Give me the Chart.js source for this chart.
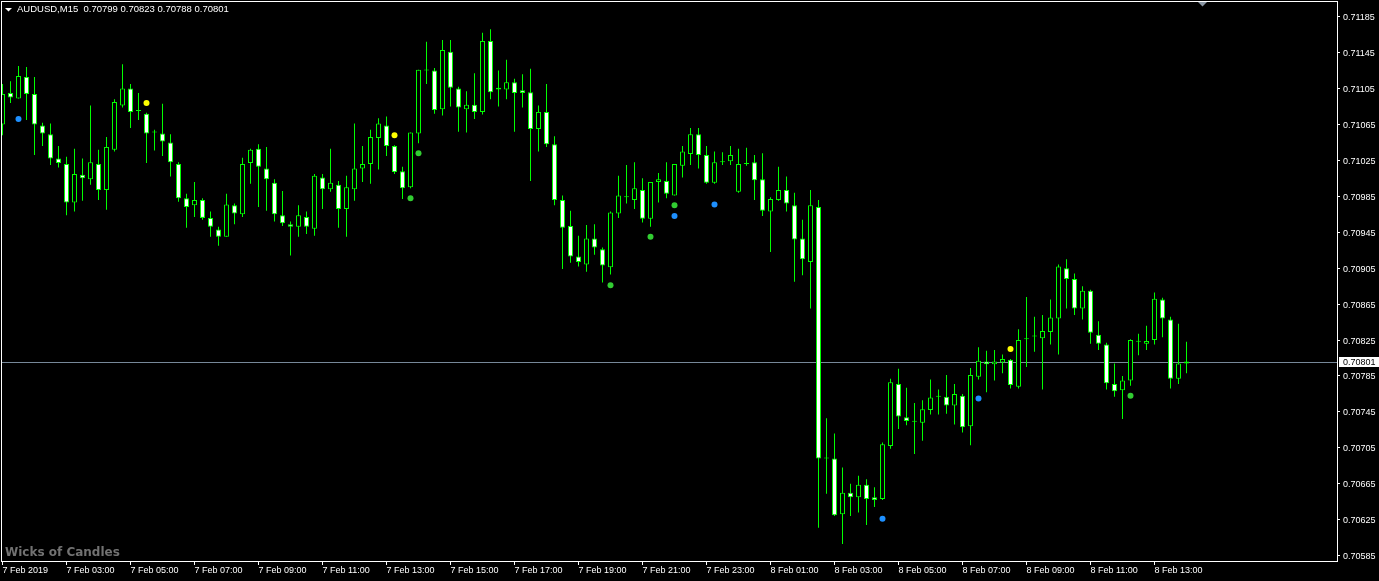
<!DOCTYPE html>
<html>
<head>
<meta charset="utf-8">
<title>AUDUSD,M15</title>
<script src="https://cdn.jsdelivr.net/npm/chart.js@4.4.1/dist/chart.umd.min.js"></script>
<style>
  html, body { margin: 0; padding: 0; background: #000; overflow: hidden; }
  canvas { display: block; }
</style>
</head>
<body>
<canvas id="myChart" width="1379" height="581"></canvas>
<script>
// AUDUSD M15 candles, one entry per bar (7 Feb 2019 01:00 onward)
const symbol = 'AUDUSD,M15';
const indicatorName = 'Wicks of Candles';

const opens = [
  0.71065, 0.71100, 0.71094, 0.71118, 0.71099, 0.71064, 0.71054, 0.71027, 0.71021, 0.70978,
  0.71009, 0.71004, 0.71021, 0.70992, 0.71037, 0.71086, 0.71105, 0.71080, 0.71077, 0.71056,
  0.71055, 0.71045, 0.71021, 0.70983, 0.70975, 0.70981, 0.70961, 0.70948, 0.70940, 0.70975,
  0.70965, 0.71022, 0.71038, 0.71016, 0.71000, 0.70964, 0.70954, 0.70951, 0.70962, 0.70949,
  0.71006, 0.70993, 0.70998, 0.70971, 0.70993, 0.71016, 0.71021, 0.71050, 0.71064, 0.71041,
  0.71013, 0.70995, 0.71055, 0.71125, 0.71125, 0.71082, 0.71146, 0.71105, 0.71082, 0.71087,
  0.71079, 0.71158, 0.71106, 0.71104, 0.71112, 0.71103, 0.71101, 0.71060, 0.71079, 0.71043,
  0.70981, 0.70952, 0.70918, 0.70909, 0.70938, 0.70926, 0.70906, 0.70966, 0.70984, 0.70981,
  0.70992, 0.70960, 0.71001, 0.71002, 0.70986, 0.71019, 0.71032, 0.71054, 0.71031, 0.71000,
  0.71023, 0.71024, 0.70990, 0.71021, 0.71023, 0.71004, 0.70968, 0.70981, 0.70992, 0.70975,
  0.70938, 0.70912, 0.70973, 0.70693, 0.70693, 0.70631, 0.70655, 0.70650, 0.70664, 0.70650,
  0.70648, 0.70707, 0.70776, 0.70739, 0.70734, 0.70733, 0.70747, 0.70762, 0.70762, 0.70752,
  0.70763, 0.70729, 0.70784, 0.70801, 0.70798, 0.70800, 0.70803, 0.70773, 0.70826, 0.70829,
  0.70827, 0.70834, 0.70849, 0.70905, 0.70893, 0.70860, 0.70880, 0.70831, 0.70820, 0.70776,
  0.70769, 0.70780, 0.70823, 0.70821, 0.70825, 0.70870, 0.70848, 0.70782, 0.70799
];
const highs = [
  0.71110, 0.71113, 0.71130, 0.71129, 0.71118, 0.71067, 0.71066, 0.71041, 0.71029, 0.71038,
  0.71027, 0.71086, 0.71037, 0.71051, 0.71093, 0.71132, 0.71110, 0.71100, 0.71078, 0.71059,
  0.71088, 0.71054, 0.71023, 0.70988, 0.71001, 0.70983, 0.70968, 0.70951, 0.70988, 0.70977,
  0.71028, 0.71038, 0.71043, 0.71040, 0.71004, 0.70991, 0.70957, 0.70975, 0.70968, 0.71010,
  0.71010, 0.71038, 0.71002, 0.71008, 0.71066, 0.71041, 0.71059, 0.71072, 0.71074, 0.71042,
  0.71018, 0.71056, 0.71126, 0.71157, 0.71128, 0.71159, 0.71159, 0.71107, 0.71102, 0.71122,
  0.71167, 0.71171, 0.71125, 0.71137, 0.71116, 0.71121, 0.71127, 0.71086, 0.71110, 0.71052,
  0.70986, 0.70969, 0.70941, 0.70953, 0.70954, 0.70928, 0.70968, 0.71008, 0.71020, 0.71023,
  0.71005, 0.71001, 0.71011, 0.71023, 0.71021, 0.71041, 0.71061, 0.71061, 0.71041, 0.71035,
  0.71034, 0.71041, 0.71038, 0.71039, 0.71031, 0.71033, 0.70984, 0.71018, 0.71007, 0.70989,
  0.70959, 0.70992, 0.70981, 0.70738, 0.70721, 0.70683, 0.70665, 0.70674, 0.70670, 0.70661,
  0.70711, 0.70782, 0.70793, 0.70772, 0.70755, 0.70758, 0.70781, 0.70770, 0.70786, 0.70776,
  0.70765, 0.70794, 0.70817, 0.70813, 0.70814, 0.70809, 0.70804, 0.70837, 0.70873, 0.70851,
  0.70853, 0.70870, 0.70909, 0.70915, 0.70899, 0.70885, 0.70881, 0.70846, 0.70822, 0.70799,
  0.70785, 0.70826, 0.70832, 0.70841, 0.70878, 0.70872, 0.70851, 0.70843, 0.70823
];
const lows = [
  0.71053, 0.71089, 0.71094, 0.71070, 0.71031, 0.71041, 0.71020, 0.71017, 0.70964, 0.70968,
  0.70980, 0.70998, 0.70981, 0.70970, 0.71035, 0.71084, 0.71061, 0.71070, 0.71022, 0.71036,
  0.71030, 0.71007, 0.70979, 0.70950, 0.70962, 0.70959, 0.70940, 0.70930, 0.70940, 0.70954,
  0.70962, 0.70999, 0.70973, 0.70969, 0.70957, 0.70952, 0.70919, 0.70940, 0.70943, 0.70941,
  0.70971, 0.70990, 0.70950, 0.70940, 0.70980, 0.71001, 0.70999, 0.71015, 0.71030, 0.71010,
  0.70982, 0.70994, 0.71044, 0.71110, 0.71077, 0.71075, 0.71085, 0.71057, 0.71056, 0.71071,
  0.71076, 0.71093, 0.71085, 0.71093, 0.71057, 0.71084, 0.71002, 0.71035, 0.71040, 0.70975,
  0.70904, 0.70911, 0.70907, 0.70901, 0.70920, 0.70889, 0.70898, 0.70961, 0.70977, 0.70971,
  0.70956, 0.70951, 0.70978, 0.70983, 0.70986, 0.71006, 0.71020, 0.71016, 0.70999, 0.70999,
  0.71020, 0.71020, 0.70989, 0.71019, 0.70981, 0.70963, 0.70923, 0.70980, 0.70968, 0.70890,
  0.70897, 0.70860, 0.70616, 0.70654, 0.70629, 0.70598, 0.70629, 0.70633, 0.70619, 0.70639,
  0.70647, 0.70704, 0.70726, 0.70730, 0.70698, 0.70713, 0.70742, 0.70742, 0.70743, 0.70731,
  0.70722, 0.70708, 0.70781, 0.70767, 0.70780, 0.70788, 0.70771, 0.70771, 0.70795, 0.70812,
  0.70770, 0.70820, 0.70809, 0.70860, 0.70853, 0.70848, 0.70821, 0.70814, 0.70770, 0.70762,
  0.70737, 0.70774, 0.70808, 0.70814, 0.70820, 0.70828, 0.70771, 0.70776, 0.70788
];
const closes = [
  0.71099, 0.71095, 0.71119, 0.71099, 0.71065, 0.71055, 0.71027, 0.71022, 0.70978, 0.71010,
  0.71005, 0.71023, 0.70992, 0.71040, 0.71090, 0.71105, 0.71079, 0.71080, 0.71055, 0.71056,
  0.71046, 0.71023, 0.70983, 0.70973, 0.70981, 0.70961, 0.70951, 0.70940, 0.70976, 0.70966,
  0.71021, 0.71037, 0.71018, 0.71004, 0.70965, 0.70955, 0.70951, 0.70964, 0.70951, 0.71008,
  0.70993, 0.71000, 0.70971, 0.70995, 0.71016, 0.71021, 0.71051, 0.71066, 0.71041, 0.71012,
  0.70994, 0.71056, 0.71126, 0.71125, 0.71081, 0.71148, 0.71106, 0.71084, 0.71087, 0.71079,
  0.71158, 0.71101, 0.71104, 0.71112, 0.71100, 0.71100, 0.71060, 0.71079, 0.71043, 0.70981,
  0.70950, 0.70918, 0.70912, 0.70938, 0.70928, 0.70908, 0.70967, 0.70986, 0.70984, 0.70994,
  0.70960, 0.71001, 0.71004, 0.70988, 0.71021, 0.71035, 0.71054, 0.71031, 0.71000, 0.71023,
  0.71023, 0.71031, 0.71021, 0.71021, 0.71003, 0.70969, 0.70982, 0.70992, 0.70977, 0.70937,
  0.70915, 0.70975, 0.70693, 0.70693, 0.70630, 0.70655, 0.70650, 0.70664, 0.70648, 0.70647,
  0.70709, 0.70778, 0.70740, 0.70735, 0.70734, 0.70748, 0.70761, 0.70762, 0.70752, 0.70765,
  0.70728, 0.70786, 0.70802, 0.70798, 0.70801, 0.70804, 0.70775, 0.70825, 0.70826, 0.70829,
  0.70835, 0.70850, 0.70907, 0.70893, 0.70860, 0.70880, 0.70833, 0.70821, 0.70777, 0.70768,
  0.70780, 0.70825, 0.70823, 0.70824, 0.70871, 0.70849, 0.70782, 0.70799, 0.70801
];

// indicator dots (bar index, price)
const blueDotIndex = [2, 84, 89, 110, 122];
const blueDotPrice = [0.71071, 0.70963, 0.70976, 0.70626, 0.70760];
const yellowDotIndex = [18, 49, 126];
const yellowDotPrice = [0.71089, 0.71053, 0.70815];
const greenDotIndex = [51, 52, 76, 81, 84, 141];
const greenDotPrice = [0.70983, 0.71033, 0.70886, 0.70940, 0.70975, 0.70763];

// axis ticks
const timeTickIndex = [0, 8, 16, 24, 32, 40, 48, 56, 64, 72, 80, 88, 96, 104, 112, 120, 128, 136, 144];
const timeTickLabels = [
  '7 Feb 2019', '7 Feb 03:00', '7 Feb 05:00', '7 Feb 07:00', '7 Feb 09:00', '7 Feb 11:00',
  '7 Feb 13:00', '7 Feb 15:00', '7 Feb 17:00', '7 Feb 19:00', '7 Feb 21:00', '7 Feb 23:00',
  '8 Feb 01:00', '8 Feb 03:00', '8 Feb 05:00', '8 Feb 07:00', '8 Feb 09:00', '8 Feb 11:00',
  '8 Feb 13:00'
];
const priceTicks = [
  0.71185, 0.71145, 0.71105, 0.71065, 0.71025, 0.70985, 0.70945, 0.70905,
  0.70865, 0.70825, 0.70785, 0.70745, 0.70705, 0.70665, 0.70625, 0.70585
];

const candleGreen = '#00ff00';
const fontFamily = "'Liberation Sans', Arial, sans-serif";

document.addEventListener('DOMContentLoaded', function () {
    Chart.defaults.font.family = fontFamily;
    Chart.defaults.font.size = 9;
    Chart.defaults.color = '#ffffff';

    const barIndex = opens.map((o, i) => i);
    const wickData = barIndex.map(i => ({x: i, y: [lows[i], highs[i]]}));
    const bodyData = barIndex.map(i => ({x: i, y: [opens[i], closes[i]]}));
    const bodyFill = barIndex.map(i => closes[i] < opens[i] ? '#ffffff' : '#000000');

    const dotData = [];
    const dotColors = [];
    blueDotIndex.forEach((b, k) => { dotData.push({x: b, y: blueDotPrice[k]}); dotColors.push('#1e90ff'); });
    yellowDotIndex.forEach((b, k) => { dotData.push({x: b, y: yellowDotPrice[k]}); dotColors.push('#ffff00'); });
    greenDotIndex.forEach((b, k) => { dotData.push({x: b, y: greenDotPrice[k]}); dotColors.push('#32cd32'); });

    const last = closes.length - 1;

    const terminalLook = {
        id: 'terminalLook',
        beforeDraw(chart) {
            const c = chart.ctx;
            c.save();
            c.fillStyle = '#000000';
            c.fillRect(0, 0, chart.width, chart.height);
            c.restore();
        },
        beforeDatasetsDraw(chart) {
            // bid line
            const c = chart.ctx;
            const area = chart.chartArea;
            const py = Math.round(chart.scales.y.getPixelForValue(closes[last])) + 0.5;
            c.save();
            c.strokeStyle = '#778899';
            c.lineWidth = 1;
            c.beginPath();
            c.moveTo(area.left, py);
            c.lineTo(area.right, py);
            c.stroke();
            c.restore();
        },
        afterDraw(chart) {
            const c = chart.ctx;
            const area = chart.chartArea;
            c.save();
            // frame
            c.strokeStyle = '#ffffff';
            c.lineWidth = 1;
            c.strokeRect(area.left + 0.5, area.top + 0.5, area.right - area.left, area.bottom - area.top);

            // header
            c.fillStyle = '#ffffff';
            c.beginPath();
            c.moveTo(5, 8);
            c.lineTo(12, 8);
            c.lineTo(8.5, 11.5);
            c.closePath();
            c.fill();
            c.font = '9.5px ' + fontFamily;
            c.textBaseline = 'middle';
            c.textAlign = 'left';
            const header = symbol + '  ' + [opens[last], highs[last], lows[last], closes[last]]
                .map(v => v.toFixed(5)).join(' ');
            c.fillText(header, 17, 9.5);

            // chart shift marker
            c.fillStyle = '#8a96a3';
            c.beginPath();
            c.moveTo(1198, 2);
            c.lineTo(1207, 2);
            c.lineTo(1202.5, 6.5);
            c.closePath();
            c.fill();

            // indicator name
            c.fillStyle = '#727272';
            c.font = 'bold 12px "DejaVu Sans", sans-serif';
            c.textBaseline = 'alphabetic';
            c.fillText(indicatorName, 5, 556);

            // bid price tag
            const py = Math.round(chart.scales.y.getPixelForValue(closes[last]));
            c.fillStyle = '#ffffff';
            c.fillRect(area.right + 2, py - 5, chart.width - area.right - 2, 10);
            c.fillStyle = '#000000';
            c.font = '9px ' + fontFamily;
            c.textBaseline = 'middle';
            c.fillText(closes[last].toFixed(5), area.right + 6, py + 1);
            c.restore();
        }
    };

    const ctx = document.getElementById('myChart').getContext('2d');
    const myChart = new Chart(ctx, {
        type: 'bar',
        data: {
            datasets: [
                {
                    label: 'dots',
                    type: 'scatter',
                    data: dotData,
                    pointBackgroundColor: dotColors,
                    pointBorderWidth: 0,
                    pointRadius: 3,
                    order: 1
                },
                {
                    label: 'body',
                    data: bodyData,
                    backgroundColor: bodyFill,
                    borderColor: candleGreen,
                    borderWidth: 1,
                    borderSkipped: false,
                    inflateAmount: 0,
                    grouped: false,
                    barPercentage: 1,
                    categoryPercentage: 1,
                    maxBarThickness: 5,
                    minBarLength: 1,
                    order: 2
                },
                {
                    label: 'wick',
                    data: wickData,
                    backgroundColor: candleGreen,
                    borderWidth: 0,
                    inflateAmount: 0,
                    grouped: false,
                    barPercentage: 1,
                    categoryPercentage: 1,
                    maxBarThickness: 1,
                    order: 3
                }
            ]
        },
        options: {
            responsive: false,
            animation: false,
            devicePixelRatio: 1,
            layout: { autoPadding: false, padding: { left: 1, top: 1, right: 0, bottom: 0 } },
            plugins: {
                legend: { display: false },
                tooltip: { enabled: false }
            },
            scales: {
                x: {
                    type: 'linear',
                    offset: false,
                    min: -0.1875,
                    max: 166.8125,
                    grid: { offset: false, drawOnChartArea: false, color: '#ffffff', tickLength: 4 },
                    border: { display: true, color: '#ffffff' },
                    afterBuildTicks: (scale) => { scale.ticks = timeTickIndex.map(v => ({value: v})); },
                    afterFit: (scale) => { scale.height = 20; scale.paddingLeft = 0; scale.paddingRight = 0; },
                    ticks: {
                        autoSkip: false,
                        maxRotation: 0,
                        align: 'start',
                        padding: 0,
                        color: '#ffffff',
                        callback: (v) => timeTickLabels[timeTickIndex.indexOf(v)]
                    }
                },
                y: {
                    position: 'right',
                    min: 0.7057899,
                    max: 0.7120248,
                    grid: { drawOnChartArea: false, color: '#ffffff', tickLength: 3 },
                    border: { display: true, color: '#ffffff' },
                    afterBuildTicks: (scale) => { scale.ticks = priceTicks.map(v => ({value: v})); },
                    afterFit: (scale) => { scale.width = 42; scale.paddingTop = 0; scale.paddingBottom = 0; },
                    ticks: {
                        padding: 3,
                        labelOffset: 1,
                        color: '#ffffff',
                        callback: (v) => v.toFixed(5)
                    }
                }
            }
        },
        plugins: [terminalLook]
    });
});
</script>
</body>
</html>
